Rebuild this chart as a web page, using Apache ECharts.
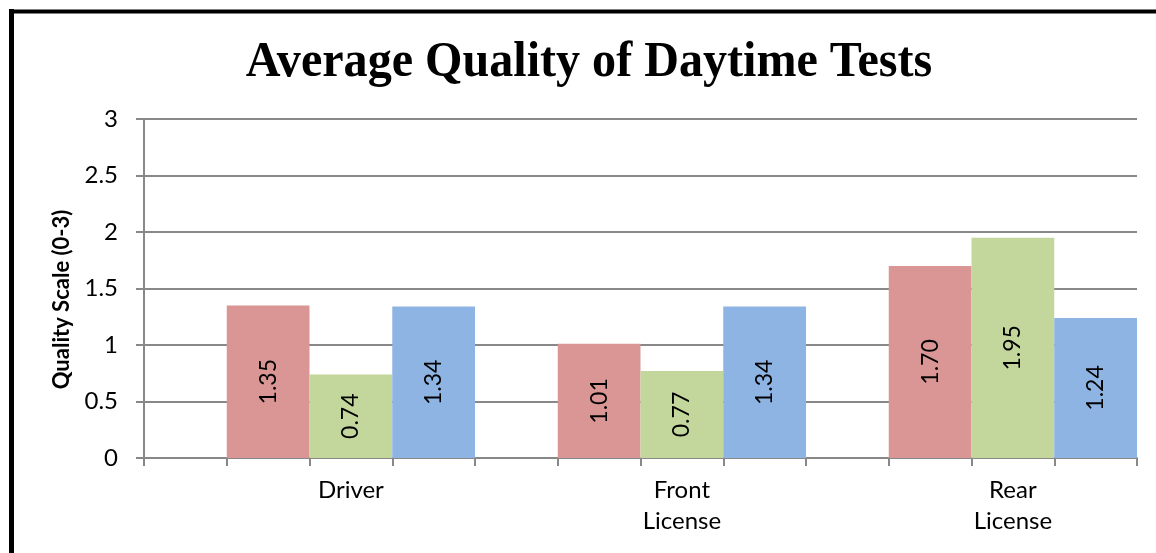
<!DOCTYPE html>
<html>
<head>
<meta charset="utf-8">
<script src="https://cdn.jsdelivr.net/npm/echarts@6/dist/echarts.min.js"></script>
<style>
	html, body { margin: 0; padding: 0; background: #fff; }
	#main { width: 1156px; height: 553px; }
</style>
</head>
<body>
<div id="main"></div>
<script>
var categories = ['Driver', 'Front\nLicense', 'Rear\nLicense'];
var seriesNames = ['Series 1', 'Series 2', 'Series 3'];
var redValues = [1.35, 1.01, 1.70];
var greenValues = [0.74, 0.77, 1.95];
var blueValues = [1.34, 1.34, 1.24];
var yTicks = ['0', '0.5', '1', '1.5', '2', '2.5', '3'];

var colors = ['#D99694', '#C3D69B', '#8EB4E3'];
var textFont = 'Lato';

// every category takes 4 slots on the axis: empty, red, green, blue
var slots = [];
var slotLabels = [];
for (var i = 0; i < categories.length; i++) {
	for (var k = 0; k < 4; k++) {
		slots.push('s' + (i * 4 + k));
		slotLabels.push(k == 2 ? categories[i] : '');
	}
}

function slotData(values, offset) {
	var arr = [];
	for (var i = 0; i < slots.length; i++) {
		arr.push(null);
	}
	for (var j = 0; j < values.length; j++) {
		arr[j * 4 + offset] = values[j];
	}
	return arr;
}

var allValues = [redValues, greenValues, blueValues];
var series = [];
for (var s = 0; s < allValues.length; s++) {
	series.push({
		name: seriesNames[s],
		type: 'bar',
		stack: 'all',
		barWidth: '100%',
		itemStyle: { color: colors[s] },
		label: {
			show: true,
			position: 'inside',
			rotate: 90,
			color: '#000',
			fontFamily: textFont,
			fontSize: 23,
			formatter: function (p) {
				return p.value == null ? '' : p.value.toFixed(2);
			}
		},
		data: slotData(allValues[s], s + 1)
	});
}

var option = {
	animation: false,
	backgroundColor: '#fff',
	grid: { left: 144, right: 19, top: 119, bottom: 95 },
	graphic: [
		{
			type: 'text',
			x: 589, y: 63,
			scaleX: 0.962,
			style: {
				text: 'Average Quality of Daytime Tests',
				font: 'bold 50px "Liberation Serif"',
				fill: '#000',
				align: 'center',
				verticalAlign: 'middle'
			}
		},
		{
			type: 'line',
			shape: { x1: 11.5, y1: 9, x2: 11.5, y2: 553 },
			style: { stroke: '#000', lineWidth: 5 }
		},
		{
			type: 'line',
			shape: { x1: 9, y1: 11.5, x2: 1156, y2: 11.5 },
			style: { stroke: '#000', lineWidth: 4 }
		}
	],
	xAxis: {
		type: 'category',
		data: slots,
		axisLine: { lineStyle: { color: '#888', width: 2 } },
		axisTick: { show: true, interval: 0, length: 8, lineStyle: { color: '#888', width: 2 } },
		axisLabel: {
			interval: 0,
			margin: 17,
			color: '#000',
			fontFamily: textFont,
			fontSize: 24,
			lineHeight: 31,
			formatter: function (val, idx) {
				return slotLabels[idx];
			}
		}
	},
	yAxis: {
		type: 'value',
		min: 0,
		max: 3,
		interval: 0.5,
		name: 'Quality Scale (0-3)',
		nameLocation: 'middle',
		nameGap: 71,
		nameTextStyle: { color: '#000', fontFamily: textFont, fontWeight: 'bold', fontSize: 22, padding: [0, 22, 0, 0] },
		axisLine: { show: true, lineStyle: { color: '#888', width: 2 } },
		axisTick: { show: true, length: 8, lineStyle: { color: '#888', width: 2 } },
		splitLine: { lineStyle: { color: '#888', width: 2 } },
		axisLabel: {
			margin: 26,
			color: '#000',
			fontFamily: textFont,
			fontSize: 24,
			formatter: function (val) {
				return yTicks[Math.round(val * 2)];
			}
		}
	},
	series: series
};

var myChart = echarts.init(document.getElementById('main'));
myChart.setOption(option);
</script>
</body>
</html>
